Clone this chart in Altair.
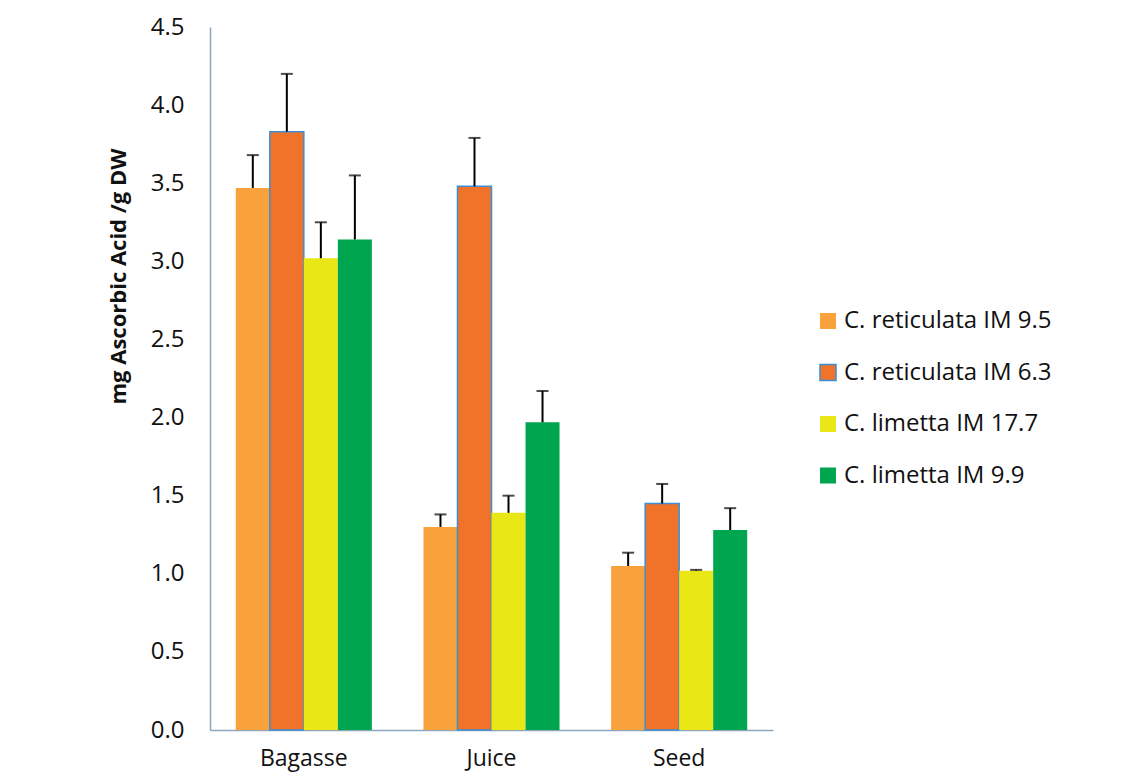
import altair as alt
import pandas as pd

categories = ["Bagasse", "Juice", "Seed"]
series = ["C. reticulata IM 9.5", "C. reticulata IM 6.3", "C. limetta IM 17.7", "C. limetta IM 9.9"]
colors = ["#F9A23B", "#F07329", "#E9E716", "#00A54F"]
strokes = ["transparent", "#3A8FD6", "transparent", "transparent"]

vals_r95 = [3.47, 1.30, 1.05]
vals_r63 = [3.83, 3.48, 1.45]
vals_l177 = [3.02, 1.39, 1.02]
vals_l99 = [3.14, 1.97, 1.28]

err_r95 = [0.21, 0.08, 0.085]
err_r63 = [0.37, 0.31, 0.125]
err_l177 = [0.23, 0.11, 0.005]
err_l99 = [0.41, 0.20, 0.14]

y_ticks = [0.0, 0.5, 1.0, 1.5, 2.0, 2.5, 3.0, 3.5, 4.0, 4.5]

rows = []
for s, vals, errs in zip(series, [vals_r95, vals_r63, vals_l177, vals_l99],
                         [err_r95, err_r63, err_l177, err_l99]):
    for c, v, e in zip(categories, vals, errs):
        rows.append({"category": c, "series": s, "value": v, "top": v + e})
df = pd.DataFrame(rows)

FONT = "Open Sans"
TXT = "#111111"

x_enc = alt.X("category:N", sort=categories,
              scale=alt.Scale(paddingInner=0.275, paddingOuter=0.1375),
              axis=alt.Axis(title=None, labelAngle=0, labelFontSize=23, labelFont=FONT,
                            labelColor=TXT, labelPadding=17, ticks=False,
                            domainColor="#8EA6BB", domainWidth=1.5))
xoff = alt.XOffset("series:N", sort=series, scale=alt.Scale(domain=series, paddingInner=0, paddingOuter=0))

legend_cfg = dict(title=None, orient="none", legendX=606, legendY=282,
                  symbolType="square", symbolSize=256, symbolStrokeWidth=1.5,
                  labelFont=FONT, labelFontSize=24, labelColor=TXT,
                  labelOffset=4, rowPadding=27.5, labelLimit=400)

base = alt.Chart(df)

bars = base.mark_bar(strokeWidth=1.5).encode(
    x=x_enc,
    xOffset=xoff,
    y=alt.Y("value:Q",
            scale=alt.Scale(domain=[0, 4.5], nice=False),
            axis=alt.Axis(values=y_ticks, format=".1f", title="mg Ascorbic Acid /g DW",
                          titleFont=FONT, titleFontSize=22, titleFontWeight="bold",
                          titleColor=TXT, titleX=-92, titleY=249, titleAngle=-90,
                          titleAlign="center", titleBaseline="middle",
                          labelFont=FONT, labelFontSize=24, labelColor=TXT,
                          labelPadding=26, ticks=False, grid=False,
                          domainColor="#8EA6BB", domainWidth=1.5)),
    color=alt.Color("series:N", sort=series,
                    scale=alt.Scale(domain=series, range=colors),
                    legend=alt.Legend(**legend_cfg)),
    stroke=alt.Stroke("series:N", sort=series,
                      scale=alt.Scale(domain=series, range=strokes),
                      legend=alt.Legend(**legend_cfg)),
)

rules = base.mark_rule(color="black", strokeWidth=2).encode(
    x=alt.X("category:N", sort=categories),
    xOffset=alt.XOffset("series:N", sort=series),
    y=alt.Y("value:Q"),
    y2="top:Q",
)

caps = base.mark_tick(color="black", thickness=2, size=12, orient="horizontal").encode(
    x=alt.X("category:N", sort=categories),
    xOffset=alt.XOffset("series:N", sort=series),
    y=alt.Y("top:Q"),
)

chart = alt.layer(bars, rules, caps).properties(
    width=563, height=703,
    autosize=alt.AutoSizeParams(type="none"),
    padding={"left": 202, "top": 19, "right": 340, "bottom": 48},
).configure(background="white").configure_view(stroke=None, strokeWidth=0)

chart.save("out.html", embed_options={"renderer": "svg", "actions": False})
